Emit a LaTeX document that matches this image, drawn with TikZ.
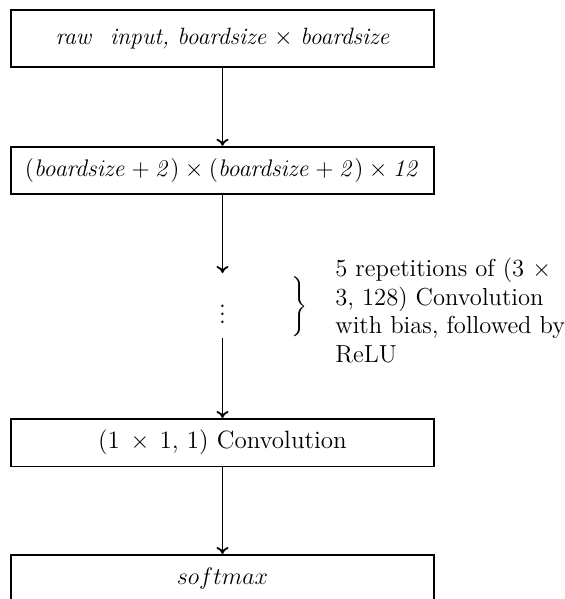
\documentclass[tikz,border=0pt]{standalone}
\usetikzlibrary{arrows.meta}
\begin{document}
\begin{tikzpicture}[x=0.5pt,y=-0.5pt,
  every node/.style={font=\fontsize{12.5}{14.2}\selectfont},
  italic/.style={font=\fontsize{11.8}{14}\selectfont},
  layer/.style={draw,line width=0.9pt,minimum width=211.5pt,minimum height=24pt,inner sep=0pt,anchor=north},
  flow/.style={line width=0.9pt,-{To[length=3.5pt,width=6pt]}}]
\useasboundingbox (0,0) rectangle (565,599);

% the four layers of the network
\node[layer,italic,minimum height=28.5pt] (input) at (222.5,9.5)
  {\textit{raw\hspace{0.8em}input, boardsize} $\times$ \textit{boardsize}};
\node[layer,font=\fontsize{11.65}{14}\selectfont,minimum height=23.8pt] (pad) at (222.5,145.8)
  {$\mathit{(boardsize + 2) \times (boardsize + 2) \times 12}$};
\node[layer,minimum height=23.8pt] (conv) at (222.5,418)
  {(1\hspace{1.2pt} $\times$ \hspace{1.2pt}1, 1) Convolution};
\node[layer,minimum height=24pt] (soft) at (222.5,554) {$softmax$};

% repeated hidden layers, elided
\coordinate (dotsin) at (222.5,273);
\coordinate (dotsout) at (222.5,338);
\node[inner sep=0pt,font=\fontsize{12.5}{14}\selectfont\mathversion{bold}] (dots) at (222.5,308) {$\vdots$};

\node[inner sep=0pt] (brace) at (298.5,306.5) {$\left.\rule[-12pt]{0pt}{29pt}\right\}$};
\node[anchor=north west,align=left,inner sep=0pt,font=\fontsize{12.3}{14.2}\selectfont] (note) at (335,258)
  {5 repetitions of (3 $\times$\\3, 128) Convolution\\with bias, followed by\\ReLU};

\draw[flow] (input.south) -- (pad.north);
\draw[flow] (pad.south) -- (dotsin);
\draw[flow] (dotsout) -- (conv.north);
\draw[flow] (conv.south) -- (soft.north);
\end{tikzpicture}
\end{document}
